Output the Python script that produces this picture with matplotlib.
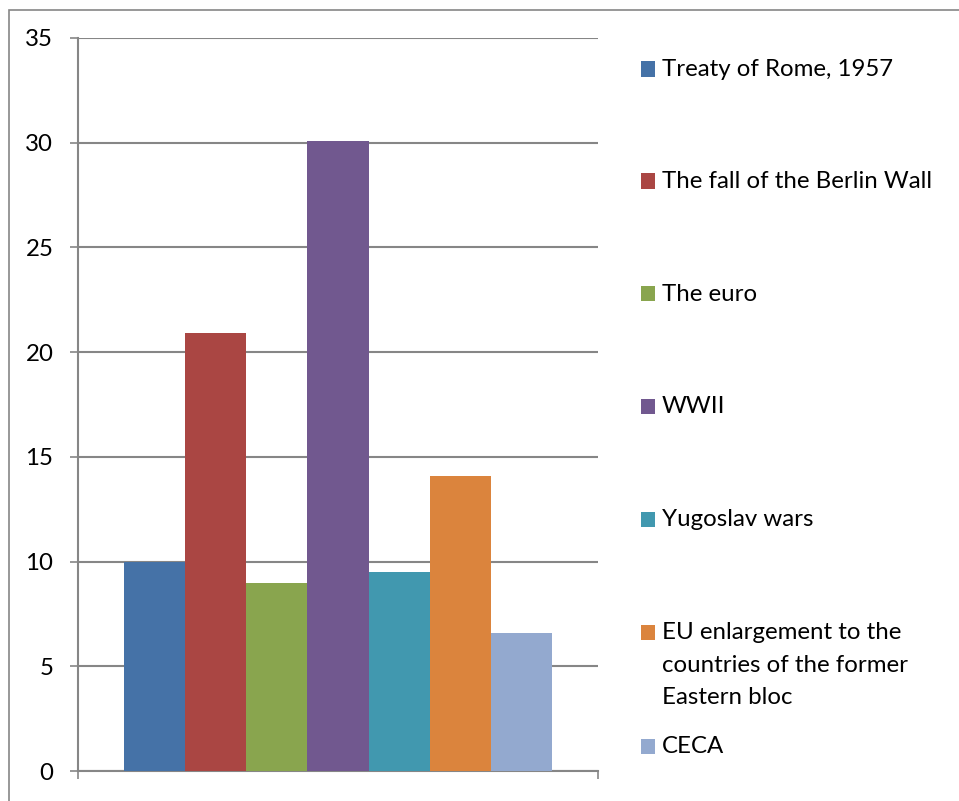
"""Grouped Excel-style bar chart: which events matter most for Europe."""

import matplotlib

matplotlib.use("Agg")
import matplotlib.pyplot as plt  # noqa: E402
from matplotlib.patches import Rectangle  # noqa: E402

LABELS = [
    "Treaty of Rome, 1957",
    "The fall of the Berlin Wall",
    "The euro",
    "WWII",
    "Yugoslav wars",
    "EU enlargement to the\ncountries of the former\nEastern bloc",
    "CECA",
]
VALUES = [10.0, 20.9, 9.0, 30.1, 9.5, 14.1, 6.6]
COLORS = ["#4572A7", "#AA4643", "#89A54E", "#71588F", "#4198AF", "#DB843D", "#93A9CF"]
Y_TICKS = [0, 5, 10, 15, 20, 25, 30, 35]

W, H = 959, 801
GRAY = "#868686"
FONT = "Lato"
SIZE = 17.3


def fx(px):
    return px / W


def fy(py):
    return 1 - py / H


def main():
    fig = plt.figure(figsize=(W / 100, H / 100), dpi=100)
    fig.patches.append(
        Rectangle((fx(8.5), -0.1), 1.2, fy(9.5) + 0.1, transform=fig.transFigure,
                  fill=False, edgecolor=GRAY, linewidth=1.2)
    )

    ax = fig.add_axes([fx(78), fy(771), fx(598) - fx(78), fy(38) - fy(771)])
    n = len(VALUES)
    width = 1 / (n + 1.5)
    start = 0.75 * width
    for i, (value, color) in enumerate(zip(VALUES, COLORS)):
        ax.bar(start + width * (i + 0.5), value, width=width, color=color, zorder=3)

    ax.set_xlim(0, 1)
    ax.set_ylim(0, 35)
    ax.set_xticks([0, 1])
    ax.set_xticklabels(["", ""])
    ax.set_yticks(Y_TICKS)
    ax.set_yticklabels([str(t) for t in Y_TICKS], fontsize=SIZE, family=FONT)
    ax.yaxis.grid(True, color=GRAY, linewidth=1.5, zorder=0)
    ax.tick_params(axis="both", direction="out", length=5.8, width=1.2, color=GRAY, pad=12)
    for side in ("top", "right"):
        ax.spines[side].set_visible(False)
    for side in ("left", "bottom"):
        ax.spines[side].set_color(GRAY)
        ax.spines[side].set_linewidth(1.5)
    ax.spines["left"].set_zorder(4)

    # legend drawn by hand so the rows keep Excel's spacing
    rows = [69, 181, 294, 406, 519, 632, 746]
    for label, color, row in zip(LABELS, COLORS, rows):
        fig.patches.append(
            Rectangle((fx(641), fy(row + 7.5)), fx(14), 15 / H, transform=fig.transFigure,
                      facecolor=color, edgecolor="none")
        )
        fig.text(fx(662), fy(row - 10), label, fontsize=SIZE, family=FONT, va="top",
                 ha="left", linespacing=1.68, color="black")

    fig.savefig("out.png", dpi=100)


if __name__ == "__main__":
    main()
